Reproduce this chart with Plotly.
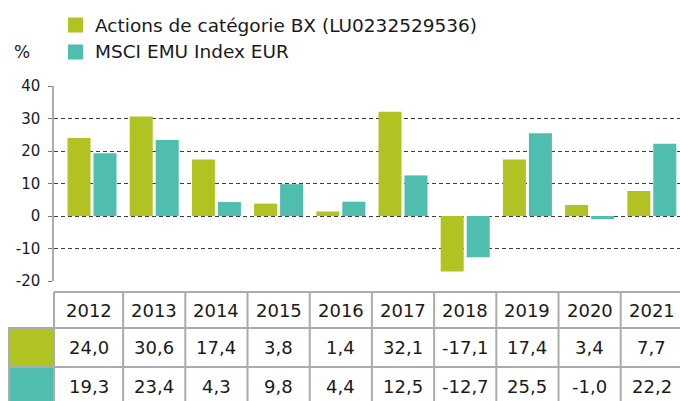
import plotly.graph_objects as go

# ---- data ----
years = ["2012", "2013", "2014", "2015", "2016", "2017", "2018", "2019", "2020", "2021"]
fund_values = [24.0, 30.6, 17.4, 3.8, 1.4, 32.1, -17.1, 17.4, 3.4, 7.7]
index_values = [19.3, 23.4, 4.3, 9.8, 4.4, 12.5, -12.7, 25.5, -1.0, 22.2]
series_names = ["Actions de catégorie BX (LU0232529536)", "MSCI EMU Index EUR"]
y_tick_values = [-20, -10, 0, 10, 20, 30, 40]
unit_label = "%"

# ---- style ----
colors = ["#B0C323", "#4FBEAE"]
FONT = "DejaVu Sans"
TXT = "#1a1a1a"
LINE = "#ababab"
W, H = 680, 401
ML, MR, MT, MB = 54, 0, 86, 120
X_RANGE = [-0.611, 9.453]
PW, PH = W - ML - MR, H - MT - MB


def px_x(px):
    return (px - ML) / PW


def px_y(py):
    return (H - MB - py) / PH


def cat_x(c):
    return (c - X_RANGE[0]) / (X_RANGE[1] - X_RANGE[0])


def fmt(v):
    return f"{v:.1f}".replace(".", ",")


fig = go.Figure()
for name, vals, col in zip(series_names, [fund_values, index_values], colors):
    fig.add_trace(go.Bar(x=years, y=vals, name=name, marker=dict(color=col, line=dict(width=0)),
                         showlegend=False))

shapes = []
annotations = []

# legend
leg_rows = [25, 52]
for name, col, yc in zip(series_names, colors, leg_rows):
    shapes.append(dict(type="rect", xref="paper", yref="paper",
                       x0=px_x(68), x1=px_x(83), y0=px_y(yc - 7.5), y1=px_y(yc + 7.5),
                       fillcolor=col, line=dict(width=0), layer="above"))
    annotations.append(dict(text=name, xref="paper", yref="paper", x=px_x(93), y=px_y(yc),
                            xanchor="left", yanchor="middle", showarrow=False,
                            font=dict(family=FONT, size=18.5, color=TXT)))
annotations.append(dict(text=unit_label, xref="paper", yref="paper", x=px_x(12), y=px_y(52),
                        xanchor="left", yanchor="middle", showarrow=False,
                        font=dict(family=FONT, size=17, color=TXT)))

# table
row_edges = [292, 328, 367, 406]
n = len(years)
col_bounds = []
for i in range(n):
    left = X_RANGE[0] if i == 0 else i - 0.5
    right = i + 0.5
    col_bounds.append((cat_x(left), cat_x(right)))

tline = dict(color=LINE, width=2)
# horizontal lines
shapes.append(dict(type="line", xref="paper", yref="paper", x0=px_x(ML), x1=1.02,
                   y0=px_y(row_edges[0]), y1=px_y(row_edges[0]), line=tline))
for r in row_edges[1:3]:
    shapes.append(dict(type="line", xref="paper", yref="paper", x0=px_x(9), x1=1.02,
                       y0=px_y(r), y1=px_y(r), line=tline))
# vertical lines
for i, (l, r) in enumerate(col_bounds):
    shapes.append(dict(type="line", xref="paper", yref="paper", x0=l, x1=l,
                       y0=px_y(row_edges[0]), y1=px_y(row_edges[3]), line=tline))
# legend color cells
for k, col in enumerate(colors):
    shapes.append(dict(type="rect", xref="paper", yref="paper",
                       x0=px_x(9), x1=px_x(ML), y0=px_y(row_edges[k + 1]), y1=px_y(row_edges[k + 2]),
                       fillcolor=col, line=tline))

rows_text = [years, [fmt(v) for v in fund_values], [fmt(v) for v in index_values]]
for k, texts in enumerate(rows_text):
    yc = px_y((row_edges[k] + row_edges[k + 1]) / 2)
    for (l, r), t in zip(col_bounds, texts):
        annotations.append(dict(text=t, xref="paper", yref="paper", x=(l + r) / 2, y=yc,
                                xanchor="center", yanchor="middle", showarrow=False,
                                font=dict(family=FONT, size=18, color=TXT)))

fig.update_layout(
    width=W, height=H,
    margin=dict(l=ML, r=MR, t=MT, b=MB, pad=0),
    paper_bgcolor="white", plot_bgcolor="white",
    barmode="group", bargap=0.164, bargroupgap=0.115,
    font=dict(family=FONT, color=TXT),
    xaxis=dict(type="category", range=X_RANGE, showticklabels=False, showgrid=False,
               showline=False, ticks="", zeroline=False),
    yaxis=dict(range=[-20, 40], tickvals=y_tick_values, ticktext=[str(v) for v in y_tick_values],
               showgrid=True, gridcolor="#3a3a3a", gridwidth=1.3, griddash="4px,3px",
               zeroline=False, showline=True, linecolor=LINE, linewidth=1.5,
               ticks="outside", ticklen=4, tickcolor="#777777", tickwidth=1.3,
               ticklabelstandoff=5,
               tickfont=dict(family=FONT, size=15, color=TXT)),
    shapes=shapes, annotations=annotations,
)

fig.write_html("out.html", config={"displayModeBar": False},
               post_script="document.body.style.margin='0';document.body.style.overflow='hidden';")
